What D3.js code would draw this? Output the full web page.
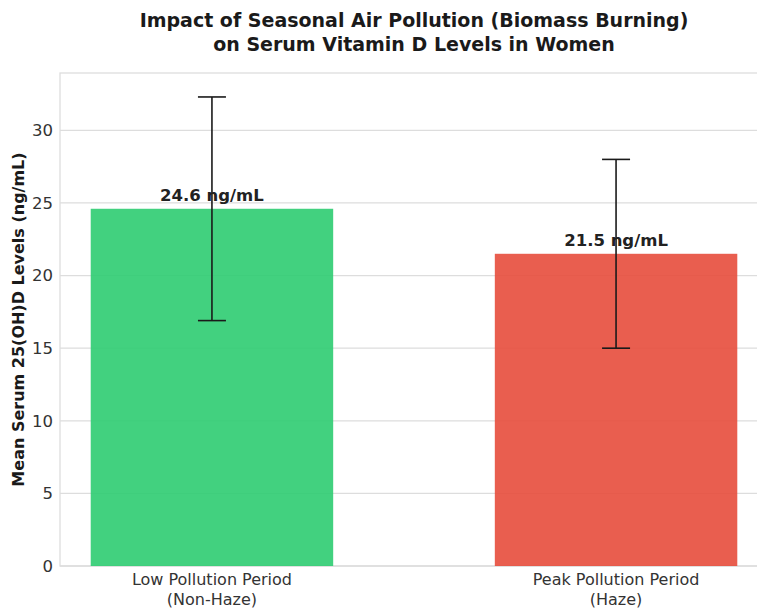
<!DOCTYPE html>
<html>
<head>
<meta charset="utf-8">
<script src="https://cdn.jsdelivr.net/npm/d3@7"></script>
<style>
  body { margin: 0; background: #fff; }
  svg { font-family: "DejaVu Sans", sans-serif; }
</style>
</head>
<body>
<div id="chart"></div>
<script>
var categories = ["Low Pollution Period\n(Non-Haze)", "Peak Pollution Period\n(Haze)"];
var means = [24.6, 21.5];
var errors = [7.7, 6.5];
var colors = ["#2ecc71", "#e74c3c"];
var yTicks = [0, 5, 10, 15, 20, 25, 30];

var W = 757, H = 609;
var margins = { top: 73, right: -11, bottom: 43, left: 60 },
  width = W - margins.left - margins.right,
  height = H - margins.top - margins.bottom;

var svg = d3.select("#chart").append("svg")
  .attr("width", W).attr("height", H);

var g = svg.append("g")
  .attr("transform", "translate(" + margins.left + "," + margins.top + ")");

var y = d3.scaleLinear().domain([0, 33.95]).range([height, 0]);
var x = d3.scaleLinear().domain([-0.376, 1.376]).range([0, width]);
var barW = x(0.6) - x(0);

// grid
g.selectAll(".grid").data(yTicks).enter().append("line")
  .attr("x1", 0).attr("x2", width)
  .attr("y1", function (d) { return y(d); }).attr("y2", function (d) { return y(d); })
  .attr("stroke", "#dddddd").attr("stroke-width", 1.3);

// frame
g.append("rect").attr("x", 0).attr("y", 0).attr("width", width).attr("height", height)
  .attr("fill", "none").attr("stroke", "#dddddd").attr("stroke-width", 1.3);

// bars
g.selectAll(".bar").data(means).enter().append("rect")
  .attr("x", function (d, i) { return x(i) - barW / 2; })
  .attr("y", function (d) { return y(d); })
  .attr("width", barW)
  .attr("height", function (d) { return y(0) - y(d); })
  .attr("fill", function (d, i) { return colors[i]; })
  .attr("fill-opacity", 0.9);

// error bars
var capW = 14;
means.forEach(function (m, i) {
  var lo = y(m - errors[i]), hi = y(m + errors[i]), cx = x(i);
  var eg = g.append("g").attr("stroke", "#1a1a1a").attr("stroke-width", 1.6);
  eg.append("line").attr("x1", cx).attr("x2", cx).attr("y1", lo).attr("y2", hi);
  eg.append("line").attr("x1", cx - capW).attr("x2", cx + capW).attr("y1", lo).attr("y2", lo);
  eg.append("line").attr("x1", cx - capW).attr("x2", cx + capW).attr("y1", hi).attr("y2", hi);
});

// value labels
g.selectAll(".val").data(means).enter().append("text")
  .attr("x", function (d, i) { return x(i); })
  .attr("y", function (d) { return y(d) - 8; })
  .attr("text-anchor", "middle")
  .style("font-size", "16.5px").style("font-weight", "bold").attr("fill", "#222")
  .text(function (d) { return d.toFixed(1) + " ng/mL"; });

// y tick labels
g.selectAll(".ytick").data(yTicks).enter().append("text")
  .attr("x", -7)
  .attr("y", function (d) { return y(d); })
  .attr("dy", "0.35em")
  .attr("text-anchor", "end")
  .style("font-size", "16.5px").attr("fill", "#333")
  .text(function (d) { return d; });

// x tick labels
categories.forEach(function (c, i) {
  var t = g.append("text").attr("text-anchor", "middle")
    .style("font-size", "16px").attr("fill", "#333");
  c.split("\n").forEach(function (line, j) {
    t.append("tspan").attr("x", x(i)).attr("y", height + 19 + j * 20).text(line);
  });
});

// y label
svg.append("text")
  .attr("transform", "translate(24," + (margins.top + height / 2) + ") rotate(-90)")
  .attr("text-anchor", "middle")
  .style("font-size", "16px").style("font-weight", "bold").attr("fill", "#1a1a1a")
  .text("Mean Serum 25(OH)D Levels (ng/mL)");

// title
var tx = margins.left + width / 2;
svg.append("text").attr("x", tx).attr("y", 27).attr("text-anchor", "middle")
  .style("font-size", "19px").style("font-weight", "bold").attr("fill", "#1a1a1a")
  .text("Impact of Seasonal Air Pollution (Biomass Burning)");
svg.append("text").attr("x", tx).attr("y", 51).attr("text-anchor", "middle")
  .style("font-size", "19px").style("font-weight", "bold").attr("fill", "#1a1a1a")
  .text("on Serum Vitamin D Levels in Women");
</script>
</body>
</html>
